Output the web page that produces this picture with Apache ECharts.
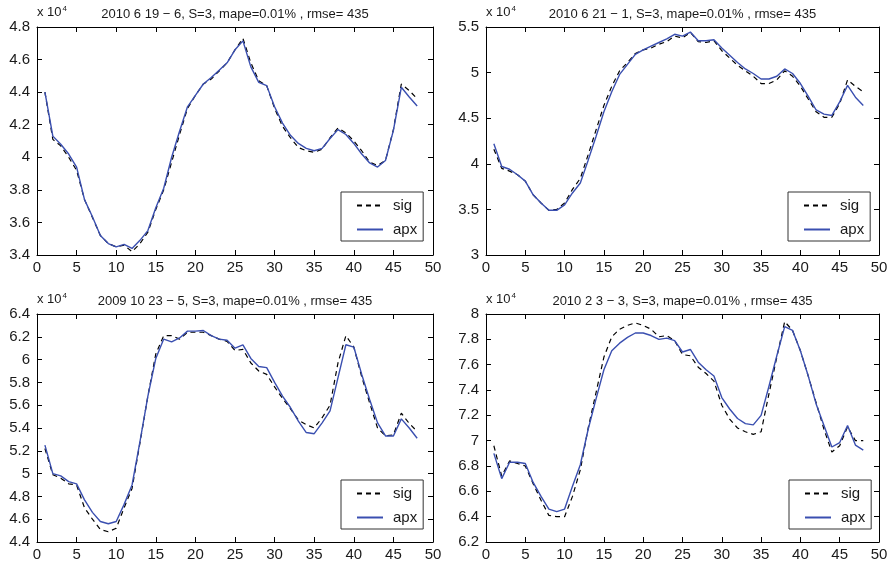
<!DOCTYPE html>
<html>
<head>
<meta charset="utf-8">
<script src="https://cdn.jsdelivr.net/npm/echarts@6/dist/echarts.min.js"></script>
<style>
  html, body { margin: 0; padding: 0; background: #fff; }
  #chart { width: 891px; height: 566px; }
</style>
</head>
<body>
<div id="chart"></div>
<script>
// x positions (sample index)
const hours = [1, 2, 3, 4, 5, 6, 7, 8, 9, 10, 11, 12, 13, 14, 15, 16, 17, 18, 19, 20, 21, 22, 23, 24,
  25, 26, 27, 28, 29, 30, 31, 32, 33, 34, 35, 36, 37, 38, 39, 40, 41, 42, 43, 44, 45, 46, 47, 48];

// values in units of 10^4
const title1 = '2010 6 19 \u2212 6, S=3, mape=0.01% , rmse= 435';
const sig1 = [4.40, 4.11, 4.07, 4.00, 3.92, 3.74, 3.63, 3.52, 3.47, 3.45, 3.46, 3.42, 3.47, 3.54, 3.68, 3.80,
  3.97, 4.14, 4.30, 4.38, 4.45, 4.48, 4.53, 4.58, 4.66, 4.73, 4.58, 4.47, 4.44, 4.30, 4.19, 4.12,
  4.06, 4.04, 4.03, 4.05, 4.12, 4.18, 4.15, 4.10, 4.04, 3.97, 3.95, 3.98, 4.17, 4.45, 4.41, 4.36];
const apx1 = [4.40, 4.13, 4.08, 4.02, 3.94, 3.74, 3.635, 3.52, 3.47, 3.45, 3.465, 3.44, 3.49, 3.55, 3.69, 3.81,
  4.00, 4.16, 4.31, 4.38, 4.45, 4.49, 4.535, 4.58, 4.66, 4.715, 4.555, 4.46, 4.44, 4.31, 4.21, 4.135,
  4.085, 4.055, 4.04, 4.055, 4.115, 4.17, 4.14, 4.085, 4.02, 3.965, 3.94, 3.98, 4.165, 4.43, 4.37, 4.315];

const title2 = '2010 6 21 \u2212 1, S=3, mape=0.01% , rmse= 435';
const sig2 = [4.16, 3.95, 3.92, 3.88, 3.81, 3.66, 3.57, 3.49, 3.50, 3.57, 3.72, 3.84, 4.10, 4.37, 4.64, 4.85,
  5.02, 5.11, 5.21, 5.25, 5.27, 5.31, 5.34, 5.40, 5.38, 5.44, 5.34, 5.33, 5.35, 5.24, 5.16, 5.08,
  5.02, 4.96, 4.88, 4.88, 4.92, 5.02, 4.96, 4.85, 4.71, 4.57, 4.51, 4.51, 4.66, 4.92, 4.85, 4.79];
const apx2 = [4.22, 3.97, 3.94, 3.88, 3.81, 3.66, 3.57, 3.49, 3.49, 3.55, 3.68, 3.79, 4.04, 4.30, 4.57, 4.79,
  4.98, 5.09, 5.20, 5.25, 5.29, 5.33, 5.37, 5.42, 5.40, 5.445, 5.35, 5.35, 5.36, 5.27, 5.19, 5.11,
  5.04, 4.99, 4.93, 4.93, 4.96, 5.04, 4.99, 4.88, 4.74, 4.59, 4.545, 4.53, 4.68, 4.86, 4.73, 4.64];

const title3 = '2009 10 23 \u2212 5, S=3, mape=0.01% , rmse= 435';
const sig3 = [5.22, 4.99, 4.96, 4.91, 4.90, 4.70, 4.60, 4.51, 4.49, 4.52, 4.70, 4.87, 5.27, 5.68, 6.05, 6.21,
  6.21, 6.18, 6.24, 6.24, 6.24, 6.21, 6.18, 6.16, 6.08, 6.09, 5.97, 5.90, 5.87, 5.76, 5.66, 5.57,
  5.47, 5.43, 5.40, 5.49, 5.60, 5.97, 6.21, 6.11, 5.85, 5.62, 5.40, 5.33, 5.34, 5.53, 5.44, 5.37];
const apx3 = [5.25, 5.00, 4.98, 4.93, 4.91, 4.77, 4.66, 4.58, 4.56, 4.58, 4.73, 4.90, 5.28, 5.68, 6.01, 6.18,
  6.155, 6.19, 6.25, 6.25, 6.255, 6.21, 6.18, 6.17, 6.10, 6.13, 6.01, 5.94, 5.93, 5.80, 5.68, 5.58,
  5.46, 5.36, 5.35, 5.445, 5.55, 5.84, 6.13, 6.11, 5.87, 5.65, 5.445, 5.33, 5.33, 5.48, 5.40, 5.31];

const title4 = '2010 2 3 \u2212 3, S=3, mape=0.01% , rmse= 435';
const sig4 = [6.96, 6.72, 6.84, 6.82, 6.80, 6.66, 6.53, 6.41, 6.40, 6.40, 6.56, 6.77, 7.10, 7.38, 7.66, 7.82,
  7.88, 7.91, 7.93, 7.91, 7.88, 7.82, 7.83, 7.79, 7.68, 7.67, 7.58, 7.53, 7.47, 7.28, 7.17, 7.10,
  7.07, 7.05, 7.07, 7.37, 7.66, 7.94, 7.87, 7.71, 7.51, 7.30, 7.09, 6.91, 6.96, 7.11, 7.00, 7.00];
const apx4 = [6.90, 6.70, 6.83, 6.83, 6.82, 6.67, 6.56, 6.46, 6.44, 6.46, 6.64, 6.81, 7.09, 7.33, 7.56, 7.71,
  7.77, 7.815, 7.85, 7.85, 7.83, 7.80, 7.81, 7.79, 7.70, 7.72, 7.62, 7.56, 7.51, 7.34, 7.25, 7.175,
  7.135, 7.125, 7.20, 7.43, 7.67, 7.90, 7.87, 7.71, 7.51, 7.29, 7.12, 6.95, 6.985, 7.12, 6.965, 6.925];

const legendNames = ['sig', 'apx'];
const yRanges = [[3.4, 4.8, 0.2], [3, 5.5, 0.5], [4.4, 6.4, 0.2], [6.2, 8, 0.2]];

// layout of the 4 panels
const panels = [
  { title: title1, sig: sig1, apx: apx1, range: yRanges[0], box: { left: 37, top: 27, width: 396, height: 228 }, leg: { left: 341, top: 192 } },
  { title: title2, sig: sig2, apx: apx2, range: yRanges[1], box: { left: 486, top: 27, width: 393, height: 228 }, leg: { left: 788, top: 192 } },
  { title: title3, sig: sig3, apx: apx3, range: yRanges[2], box: { left: 37, top: 314, width: 396, height: 228 }, leg: { left: 341, top: 480 } },
  { title: title4, sig: sig4, apx: apx4, range: yRanges[3], box: { left: 486, top: 314, width: 393, height: 228 }, leg: { left: 789, top: 480 } }
];

const font = 'Liberation Sans, Arial, Helvetica, sans-serif';
const ink = '#000';
const labelColor = '#1a1a1a';
const blue = '#3a4fb0';

const grids = [], xAxes = [], yAxes = [], series = [], legends = [];

panels.forEach((p, i) => {
  grids.push(Object.assign({ show: false }, p.box));
  const tick = { show: true, inside: true, length: 5, lineStyle: { color: ink, width: 1 } };
  const line = { show: true, onZero: false, lineStyle: { color: ink, width: 1 } };
  // bottom x axis
  xAxes.push({
    gridIndex: i, type: 'value', position: 'bottom', min: 0, max: 50, interval: 5,
    axisLine: line, axisTick: tick, splitLine: { show: false },
    axisLabel: { color: labelColor, fontSize: 15, fontFamily: font, margin: 5 }
  });
  // top x axis (frame + title)
  xAxes.push({
    gridIndex: i, type: 'value', position: 'top', min: 0, max: 50, interval: 5,
    axisLine: line, axisTick: tick, splitLine: { show: false }, axisLabel: { show: false },
    name: p.title, nameLocation: 'middle', nameGap: 6,
    nameTextStyle: { color: labelColor, fontSize: 13, fontFamily: font }
  });
  // left y axis
  yAxes.push({
    gridIndex: i, type: 'value', position: 'left', min: p.range[0], max: p.range[1], interval: p.range[2],
    axisLine: line, axisTick: tick, splitLine: { show: false },
    axisLabel: { color: labelColor, fontSize: 15, fontFamily: font, margin: 7 },
    name: 'x 10{sup|4}', nameLocation: 'end', nameGap: 7,
    nameTextStyle: {
      align: 'left', color: labelColor, fontSize: 13, fontFamily: font,
      rich: { sup: { fontSize: 8, fontFamily: font, color: labelColor, padding: [0, 0, 7, 1] } }
    }
  });
  // right y axis (frame)
  yAxes.push({
    gridIndex: i, type: 'value', position: 'right', min: p.range[0], max: p.range[1], interval: p.range[2],
    axisLine: line, axisTick: tick, splitLine: { show: false }, axisLabel: { show: false }
  });

  series.push({
    type: 'line', name: legendNames[0], xAxisIndex: 2 * i, yAxisIndex: 2 * i,
    data: hours.map((h, k) => [h, p.sig[k]]),
    symbol: 'none', silent: true,
    lineStyle: { color: ink, width: 1.2, type: [5, 4] },
    itemStyle: { color: ink }
  });
  series.push({
    type: 'line', name: legendNames[1], xAxisIndex: 2 * i, yAxisIndex: 2 * i,
    data: hours.map((h, k) => [h, p.apx[k]]),
    symbol: 'none', silent: true,
    lineStyle: { color: blue, width: 1.4 },
    itemStyle: { color: blue }
  });

  legends.push({
    data: legendNames, orient: 'vertical', left: p.leg.left, top: p.leg.top,
    padding: [6, 6, 4, 15], itemWidth: 26, itemHeight: 14, itemGap: 9,
    borderColor: '#333', borderWidth: 1, backgroundColor: '#fff',
    selectedMode: false,
    // hide the symbol echarts puts in the middle of a line icon
    itemStyle: { color: 'rgba(0,0,0,0)', borderColor: 'rgba(0,0,0,0)', borderWidth: 0 },
    textStyle: { color: labelColor, fontSize: 15, fontFamily: font, padding: [0, 0, 0, 5] }
  });
});

const chart = echarts.init(document.getElementById('chart'));
chart.setOption({
  backgroundColor: '#fff',
  animation: false,
  grid: grids,
  xAxis: xAxes,
  yAxis: yAxes,
  legend: legends,
  series: series
});
</script>
</body>
</html>
